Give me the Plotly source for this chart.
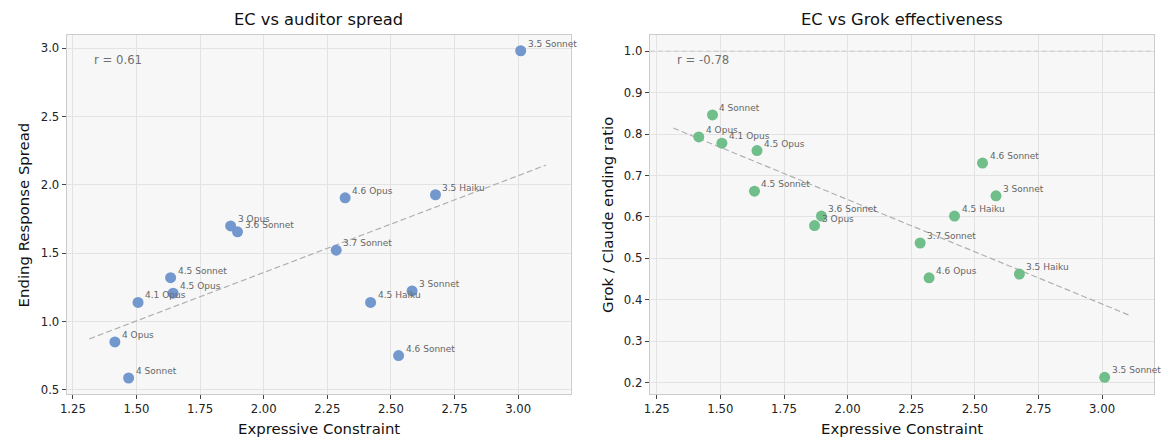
import numpy as np
import plotly.graph_objects as go

models = ["3.5 Sonnet", "4.6 Opus", "3.5 Haiku", "3 Opus", "3.6 Sonnet", "3.7 Sonnet",
          "4.5 Sonnet", "4.5 Opus", "4.1 Opus", "4 Opus", "4 Sonnet", "4.5 Haiku",
          "3 Sonnet", "4.6 Sonnet"]
ec = [3.01, 2.32, 2.675, 1.87, 1.897, 2.285, 1.634, 1.644, 1.506, 1.415, 1.469, 2.42, 2.583, 2.53]
spread = [2.98, 1.905, 1.927, 1.699, 1.656, 1.522, 1.321, 1.207, 1.14, 0.851, 0.587, 1.14, 1.224, 0.751]
ratio = [0.213, 0.453, 0.462, 0.579, 0.602, 0.537, 0.662, 0.760, 0.778, 0.793, 0.846, 0.602, 0.651, 0.730]
r_labels = ["r = 0.61", "r = -0.78"]
titles = ["EC vs auditor spread", "EC vs Grok effectiveness"]
ytitles = ["Ending Response Spread", "Grok / Claude ending ratio"]
xtitle = "Expressive Constraint"
xticks = [1.25, 1.5, 1.75, 2.0, 2.25, 2.5, 2.75, 3.0]
yticks_left = [0.5, 1.0, 1.5, 2.0, 2.5, 3.0]
yticks_right = [0.2, 0.3, 0.4, 0.5, 0.6, 0.7, 0.8, 0.9, 1.0]

FONT = "DejaVu Sans"
BLUE = "rgb(114,152,206)"
GREEN = "rgb(112,190,138)"

fig = go.Figure()

x = np.array(ec)
xl = np.linspace(x.min() - 0.1, x.max() + 0.1, 50)

for i, (yv, col) in enumerate([(spread, BLUE), (ratio, GREEN)]):
    xa = "x" if i == 0 else "x2"
    ya = "y" if i == 0 else "y2"
    c = np.polyfit(x, np.array(yv), 1)
    fig.add_trace(go.Scatter(x=xl, y=np.polyval(c, xl), mode="lines",
                             line=dict(color="#b0b0b0", width=1.2, dash="6px,3px"),
                             xaxis=xa, yaxis=ya, hoverinfo="skip", showlegend=False))
    fig.add_trace(go.Scatter(x=ec, y=yv, mode="markers",
                             marker=dict(size=11, color=col, line=dict(width=0)),
                             xaxis=xa, yaxis=ya, showlegend=False))
    for m, xv, yy in zip(models, ec, yv):
        fig.add_annotation(x=xv, y=yy, xref=xa, yref=ya, text=m, showarrow=False,
                           xanchor="left", yanchor="middle", xshift=5, yshift=7,
                           font=dict(family=FONT, size=9, color="#666666"))

# reference line at 1.0 on right panel
fig.add_shape(type="line", xref="x2 domain", yref="y2", x0=0, x1=1, y0=1.0, y1=1.0,
              line=dict(color="#c8c8c8", width=1, dash="5px,3px"))

axis_common = dict(showgrid=True, gridcolor="#e3e3e3", gridwidth=1, showline=True,
                   linecolor="#cccccc", linewidth=1, mirror=True, ticks="outside",
                   ticklen=4, tickcolor="#444444", zeroline=False,
                   tickfont=dict(family=FONT, size=11.7, color="#222222"))

xd1 = [60 / 1161, 567 / 1161]
xd2 = [646.7 / 1161, 1154 / 1161]
yd = [1 - 397 / 438, 1 - 35 / 438]

fig.update_layout(
    width=1161, height=438,
    margin=dict(l=0, r=0, t=0, b=0),
    paper_bgcolor="white", plot_bgcolor="#f7f7f7",
    font=dict(family=FONT),
    xaxis=dict(domain=xd1, range=[1.2254, 3.206], tickvals=xticks,
               tickformat=".2f", anchor="y", **axis_common),
    yaxis=dict(domain=yd, range=[0.468, 3.097], tickvals=yticks_left,
               tickformat=".1f", anchor="x", **axis_common),
    xaxis2=dict(domain=xd2, range=[1.2227, 3.204], tickvals=xticks,
                tickformat=".2f", anchor="y2", **axis_common),
    yaxis2=dict(domain=yd, range=[0.172, 1.0395], tickvals=yticks_right,
                tickformat=".1f", anchor="x2", **axis_common),
)

for i, xd in enumerate([xd1, xd2]):
    fig.add_annotation(xref="paper", yref="paper", x=xd[0] + 0.05 * (xd[1] - xd[0]),
                       y=yd[1] - 0.045 * (yd[1] - yd[0]), text=r_labels[i], showarrow=False,
                       xanchor="left", yanchor="top", font=dict(family=FONT, size=11.7, color="#707070"))
    fig.add_annotation(xref="paper", yref="paper", x=(xd[0] + xd[1]) / 2, y=1 - 20 / 438,
                       text=titles[i], showarrow=False, xanchor="center", yanchor="middle",
                       font=dict(family=FONT, size=16.3, color="#111111"))
    fig.add_annotation(xref="paper", yref="paper", x=(xd[0] + xd[1]) / 2, y=1 - 432 / 438,
                       text=xtitle, showarrow=False, xanchor="center", yanchor="middle",
                       font=dict(family=FONT, size=14.9, color="#111111"))

fig.add_annotation(xref="paper", yref="paper", x=17 / 1161, y=(yd[0] + yd[1]) / 2, text=ytitles[0],
                   textangle=-90, showarrow=False, xanchor="center", yanchor="middle",
                   font=dict(family=FONT, size=14.9, color="#111111"))
fig.add_annotation(xref="paper", yref="paper", x=604 / 1161, y=(yd[0] + yd[1]) / 2, text=ytitles[1],
                   textangle=-90, showarrow=False, xanchor="center", yanchor="middle",
                   font=dict(family=FONT, size=14.9, color="#111111"))

fig.write_html("out.html", config={"displayModeBar": False},
               post_script="document.body.style.margin='0px';document.body.style.overflow='hidden';")
